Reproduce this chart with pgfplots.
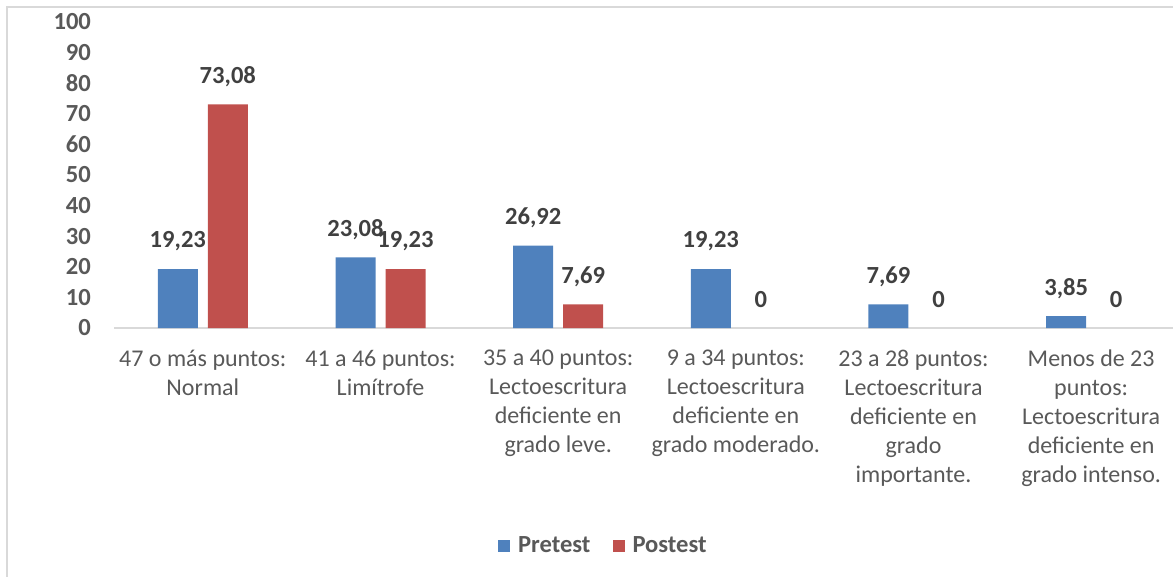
\documentclass[border=0pt]{standalone}
\usepackage{fontspec}
\setmainfont{Carlito}
\usepackage{pgfplots}
\pgfplotsset{compat=1.18}
\definecolor{cblue}{HTML}{4F81BD}
\definecolor{cred}{HTML}{C0504D}
\definecolor{ctick}{HTML}{595959}
\definecolor{clab}{HTML}{404040}
\definecolor{cline}{HTML}{D9D9D9}
\begin{document}
\begin{tikzpicture}
\useasboundingbox (0,0) rectangle (586.5pt,-288.5pt);
\clip (0,0) rectangle (586.5pt,-288.5pt);
\draw[cline, line width=1pt] (3.5pt,-290pt) -- (3.5pt,-3.5pt) -- (590pt,-3.5pt);
\begin{axis}[
  at={(57pt,-164pt)}, anchor=south west,
  scale only axis, width=533pt, height=153pt,
  ybar, bar width=20pt,
  xmin=-0.5, xmax=5.5, ymin=0, ymax=100,
  xtick={0,...,5}, ytick={0,10,...,100},
  xticklabels={{47 o más puntos:\\Normal},{41 a 46 puntos:\\Limítrofe},{35 a 40 puntos:\\Lectoescritura\\deficiente en\\grado leve.},{9 a 34 puntos:\\Lectoescritura\\deficiente en\\grado moderado.},{23 a 28 puntos:\\Lectoescritura\\deficiente en\\grado\\importante.},{Menos de 23\\puntos:\\Lectoescritura\\deficiente en\\grado intenso.}},
  axis lines*=left,
  x axis line style={cline, line width=1pt},
  y axis line style={draw=none},
  major tick length=0pt,
  xticklabel style={align=center, anchor=north, yshift=-7.5pt, font=\fontsize{12}{14.5}\selectfont, text=ctick},
  yticklabel style={font=\fontsize{12.3}{14.5}\selectfont\bfseries, text=ctick, xshift=-8pt},
  /pgf/number format/assume math mode=true,
  nodes near coords={\pgfmathprintnumber[use comma,fixed,precision=2]{\pgfplotspointmeta}},
  every node near coord/.append style={font=\fontsize{12.3}{14.5}\selectfont\bfseries, text=clab, anchor=center, yshift=14pt},
  legend style={at={(0.46,-0.712)}, anchor=center, draw=none, fill=none, legend columns=2,
    font=\fontsize{12.3}{14.5}\selectfont\bfseries, text=ctick,
    /tikz/every even column/.append style={column sep=9pt}},
  legend image code/.code={\fill[#1,draw=none] (0pt,-3pt) rectangle (6pt,3pt); \path (8pt,0pt);},
]
\addplot[fill=cblue, draw=none, bar shift=-12.5pt] coordinates {(0,19.23) (1,23.08) (2,26.92) (3,19.23) (4,7.69) (5,3.85)};
\addplot[fill=cred, draw=none, bar shift=12.5pt] coordinates {(0,73.08) (1,19.23) (2,7.69)};
\addplot[fill=none, draw=none, bar shift=12.5pt, forget plot] coordinates {(3,0) (4,0) (5,0)};
\legend{Pretest,Postest}
\end{axis}
\end{tikzpicture}
\end{document}
